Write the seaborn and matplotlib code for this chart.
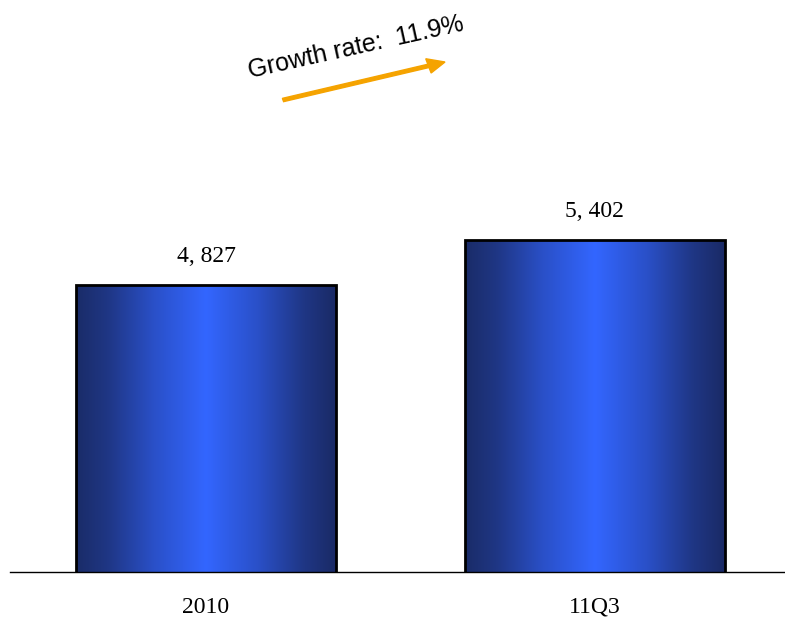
import numpy as np
import pandas as pd
import matplotlib
matplotlib.use("Agg")
import matplotlib.pyplot as plt
from matplotlib.colors import LinearSegmentedColormap
import seaborn as sns

categories = ["2010", "11Q3"]
values = [4827, 5402]
value_labels = ["4, 827", "5, 402"]
growth_text = "Growth rate:  11.9%"

sns.set_theme(style="white")
plt.rcParams["font.family"] = ["Liberation Serif", "DejaVu Serif"]

fig = plt.figure(figsize=(7.85, 6.19), dpi=100)
ax = fig.add_axes([10 / 785, 47 / 619, 775 / 785, 572 / 619])

df = pd.DataFrame({"period": categories, "value": values})
sns.barplot(data=df, x="period", y="value", ax=ax, width=0.669,
            color="#3366ff", edgecolor="black", linewidth=2.0, saturation=1)

ax.set_xlim(-0.5045, 1.490)
ax.set_ylim(1160, 8469)

# horizontal shading inside each bar
shade = LinearSegmentedColormap.from_list(
    "barshade",
    [(0.0, "#1a2c68"), (0.12, "#1f3684"), (0.3, "#2a50c8"),
     (0.5, "#3366ff"), (0.7, "#2a50c8"), (0.88, "#1f3684"), (1.0, "#1a2a66")])
grad = np.linspace(0, 1, 256).reshape(1, -1)
for patch in ax.patches:
    x0, y0 = patch.get_x(), patch.get_y()
    w, h = patch.get_width(), patch.get_height()
    im = ax.imshow(grad, cmap=shade, aspect="auto",
                   extent=(x0, x0 + w, 1160, y0 + h), zorder=patch.get_zorder() + 0.1)
    im.set_clip_path(patch)
    patch.set_facecolor("none")
    patch.set_zorder(patch.get_zorder() + 0.2)

for i, (v, lab) in enumerate(zip(values, value_labels)):
    ax.text(i, v + 230, lab, ha="center", va="bottom", fontsize=17, color="black")

sns.despine(ax=ax, left=True, top=True, right=True)
ax.spines["bottom"].set_color("black")
ax.spines["bottom"].set_linewidth(1.0)
ax.set_yticks([])
ax.set_xlabel("")
ax.set_ylabel("")
ax.tick_params(axis="x", length=0, pad=18, labelsize=17, colors="black")

# growth arrow and its caption
fig.patches.append(matplotlib.patches.FancyArrow(
    283 / 785, 1 - 100 / 619, (445 - 283) / 785, (100 - 62) / 619,
    width=0.0055, head_width=0.024, head_length=0.022,
    length_includes_head=True, color="#f5a300", transform=fig.transFigure))
fig.text(356 / 785, 1 - 47 / 619, growth_text, ha="center", va="center",
         rotation=12.5, fontsize=18, family=["Liberation Sans", "DejaVu Sans"],
         color="black")

fig.savefig("out.png", dpi=100, facecolor="white")
